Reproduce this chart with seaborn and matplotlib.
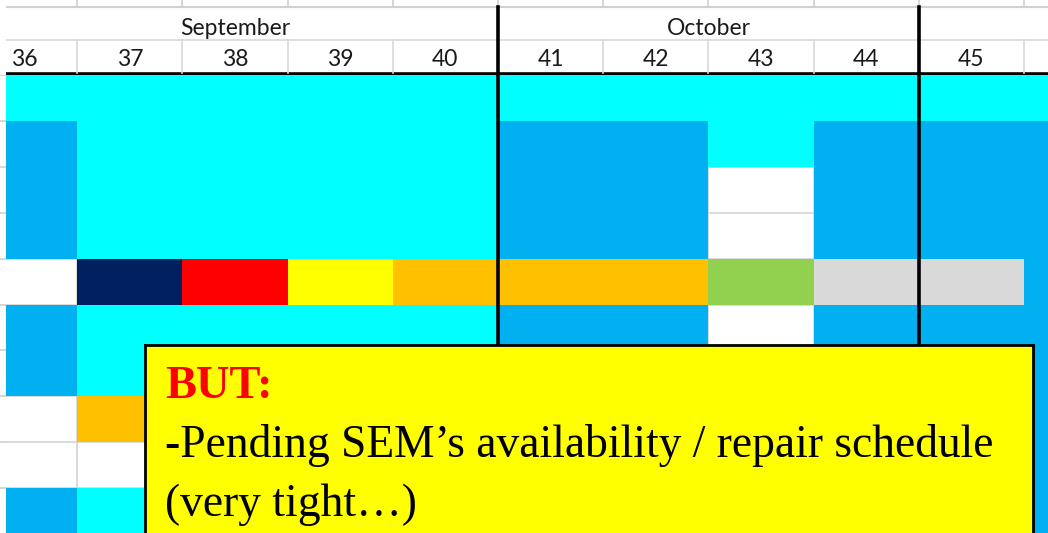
import numpy as np
import pandas as pd
import seaborn as sns
import matplotlib
matplotlib.use("Agg")
import matplotlib.pyplot as plt
from matplotlib.colors import ListedColormap

# ---------------- data ----------------
weeks = [36, 37, 38, 39, 40, 41, 42, 43, 44, 45, 46]
week_labels = ["36", "37", "38", "39", "40", "41", "42", "43", "44", "45", ""]
months = ["September", "October"]
month_first_week = [36, 41]
month_last_week = [40, 44]
month_dividers = [40.5, 44.5]

status_codes = ["C", "B", "N", "R", "Y", "O", "G", "S"]
status_colors = ["#00FFFF", "#00B0F0", "#002060", "#FF0000",
                 "#FFFF00", "#FFC000", "#92D050", "#D9D9D9"]

row01 = ["C", "C", "C", "C", "C", "C", "C", "C", "C", "C", "C"]
row02 = ["B", "C", "C", "C", "C", "B", "B", "C", "B", "B", "B"]
row03 = ["B", "C", "C", "C", "C", "B", "B", "W", "B", "B", "B"]
row04 = ["B", "C", "C", "C", "C", "B", "B", "W", "B", "B", "B"]
row05 = ["W", "N", "R", "Y", "O", "O", "O", "G", "S", "S", "B"]
row06 = ["B", "C", "C", "C", "C", "B", "B", "W", "B", "B", "B"]
row07 = ["B", "C", "C", "C", "C", "B", "B", "W", "B", "B", "B"]
row08 = ["W", "O", "O", "O", "O", "O", "O", "W", "B", "B", "B"]
row09 = ["W", "W", "W", "W", "W", "W", "W", "W", "B", "B", "B"]
row10 = ["B", "C", "C", "C", "C", "B", "B", "W", "B", "B", "B"]

note_title = "BUT:"
note_lines = ["-Pending SEM\u2019s availability / repair schedule",
              "(very tight\u2026)"]

# ---------------- build table ----------------
rows = [row01, row02, row03, row04, row05, row06, row07, row08, row09, row10]
code_index = {c: i for i, c in enumerate(status_codes)}
values = np.array([[code_index.get(c, np.nan) for c in r] for r in rows], dtype=float)
df = pd.DataFrame(values, columns=weeks)
mask = df.isna()

W, H = 1048, 533
fig = plt.figure(figsize=(W / 100, H / 100), dpi=100)
fig.patch.set_facecolor("white")

col_w = 105.2
row_h = 45.9
x0_px = -28.0          # left edge of week 36 column in pixels
left_px = 6
header_h = 75

xl = ((left_px - x0_px) / col_w, (W - x0_px) / col_w)
yl = ((H - header_h) / row_h, 0)

# ---- grid (heatmap) ----
ax = fig.add_axes([left_px / W, 0, (W - left_px) / W, (H - header_h) / H])
sns.heatmap(df, mask=mask, cmap=ListedColormap(status_colors),
            vmin=-0.5, vmax=len(status_codes) - 0.5, cbar=False,
            linewidths=0, ax=ax)
ax.set_facecolor("white")
ax.set_xticks([])
ax.set_yticks([])
ax.set_xticks(np.arange(0, len(weeks) + 1), minor=True)
ax.set_yticks(np.arange(0, len(rows) + 1), minor=True)
ax.tick_params(which="both", length=0, labelbottom=False, labelleft=False)
ax.set_xlabel("")
ax.set_ylabel("")
ax.grid(which="minor", color="#D4D4D4", linewidth=1.2)
ax.set_axisbelow(True)
for s in ax.spines.values():
    s.set_visible(False)
for d in month_dividers:
    ax.axvline(weeks.index(int(d - 0.5)) + 1, color="black", lw=2.6, zorder=5)
ax.set_xlim(*xl)
ax.set_ylim(*yl)

# ---- left row-header edge ----
lx = fig.add_axes([0, 0, left_px / W, (H - header_h) / H])
lx.set_xlim(0, 1)
lx.set_ylim(*yl)
lx.axis("off")
for i in range(len(rows) + 1):
    lx.plot([0, 1], [i, i], color="#D0D0D0", lw=1.2)

# ---- header ----
hx = fig.add_axes([left_px / W, (H - header_h) / H, (W - left_px) / W, header_h / H])
hx.set_xlim(*xl)
hx.set_ylim(header_h, 0)
hx.axis("off")
hx.axhline(7, color="#D0D0D0", lw=1.5)
hx.axhline(40, color="#D9D9D9", lw=1.2)
hx.axhline(73.5, color="black", lw=2.6)
for j in range(1, len(weeks)):
    hx.plot([j, j], [40, 73], color="#D9D9D9", lw=1.2)
    hx.plot([j, j], [0, 7], color="#D0D0D0", lw=1.2)
for d in month_dividers:
    j = weeks.index(int(d - 0.5)) + 1
    hx.plot([j, j], [7, header_h], color="black", lw=2.6)
hx.set_xlim(*xl)
hx.set_ylim(header_h, 0)

hfont = dict(family=["Lato", "DejaVu Sans"], fontsize=16.5, color="#1a1a1a")
for m, a, b in zip(months, month_first_week, month_last_week):
    xc = (weeks.index(a) + weeks.index(b) + 1) / 2
    hx.text(xc, 26.5, m, ha="center", va="center_baseline", **hfont)
for j, lab in enumerate(week_labels):
    hx.text(j + 0.5, 58, lab, ha="center", va="center_baseline", **hfont)

# ---- note box ----
bx0, by0 = 145, 345
bw = 1033 - bx0
bh = H - by0
nb = fig.add_axes([bx0 / W, 0, bw / W, bh / H])
nb.set_facecolor("#FFFF00")
nb.set_xlim(0, bw)
nb.set_ylim(bh, 0)
nb.set_xticks([])
nb.set_yticks([])
for k, s in nb.spines.items():
    s.set_color("black")
    s.set_linewidth(2)
nb.spines["bottom"].set_visible(False)
nb.set_zorder(10)

serif = ["Liberation Serif", "DejaVu Serif"]
nb.text(20, 53, note_title, color="#FF0000", fontweight="bold",
        fontsize=33.5, family=serif, va="baseline", ha="left")
for i, line in enumerate(note_lines):
    nb.text(20, 112 + i * 59, line, color="black", fontsize=32.8,
            family=serif, va="baseline", ha="left")

fig.savefig("out.png", dpi=100, facecolor="white")
